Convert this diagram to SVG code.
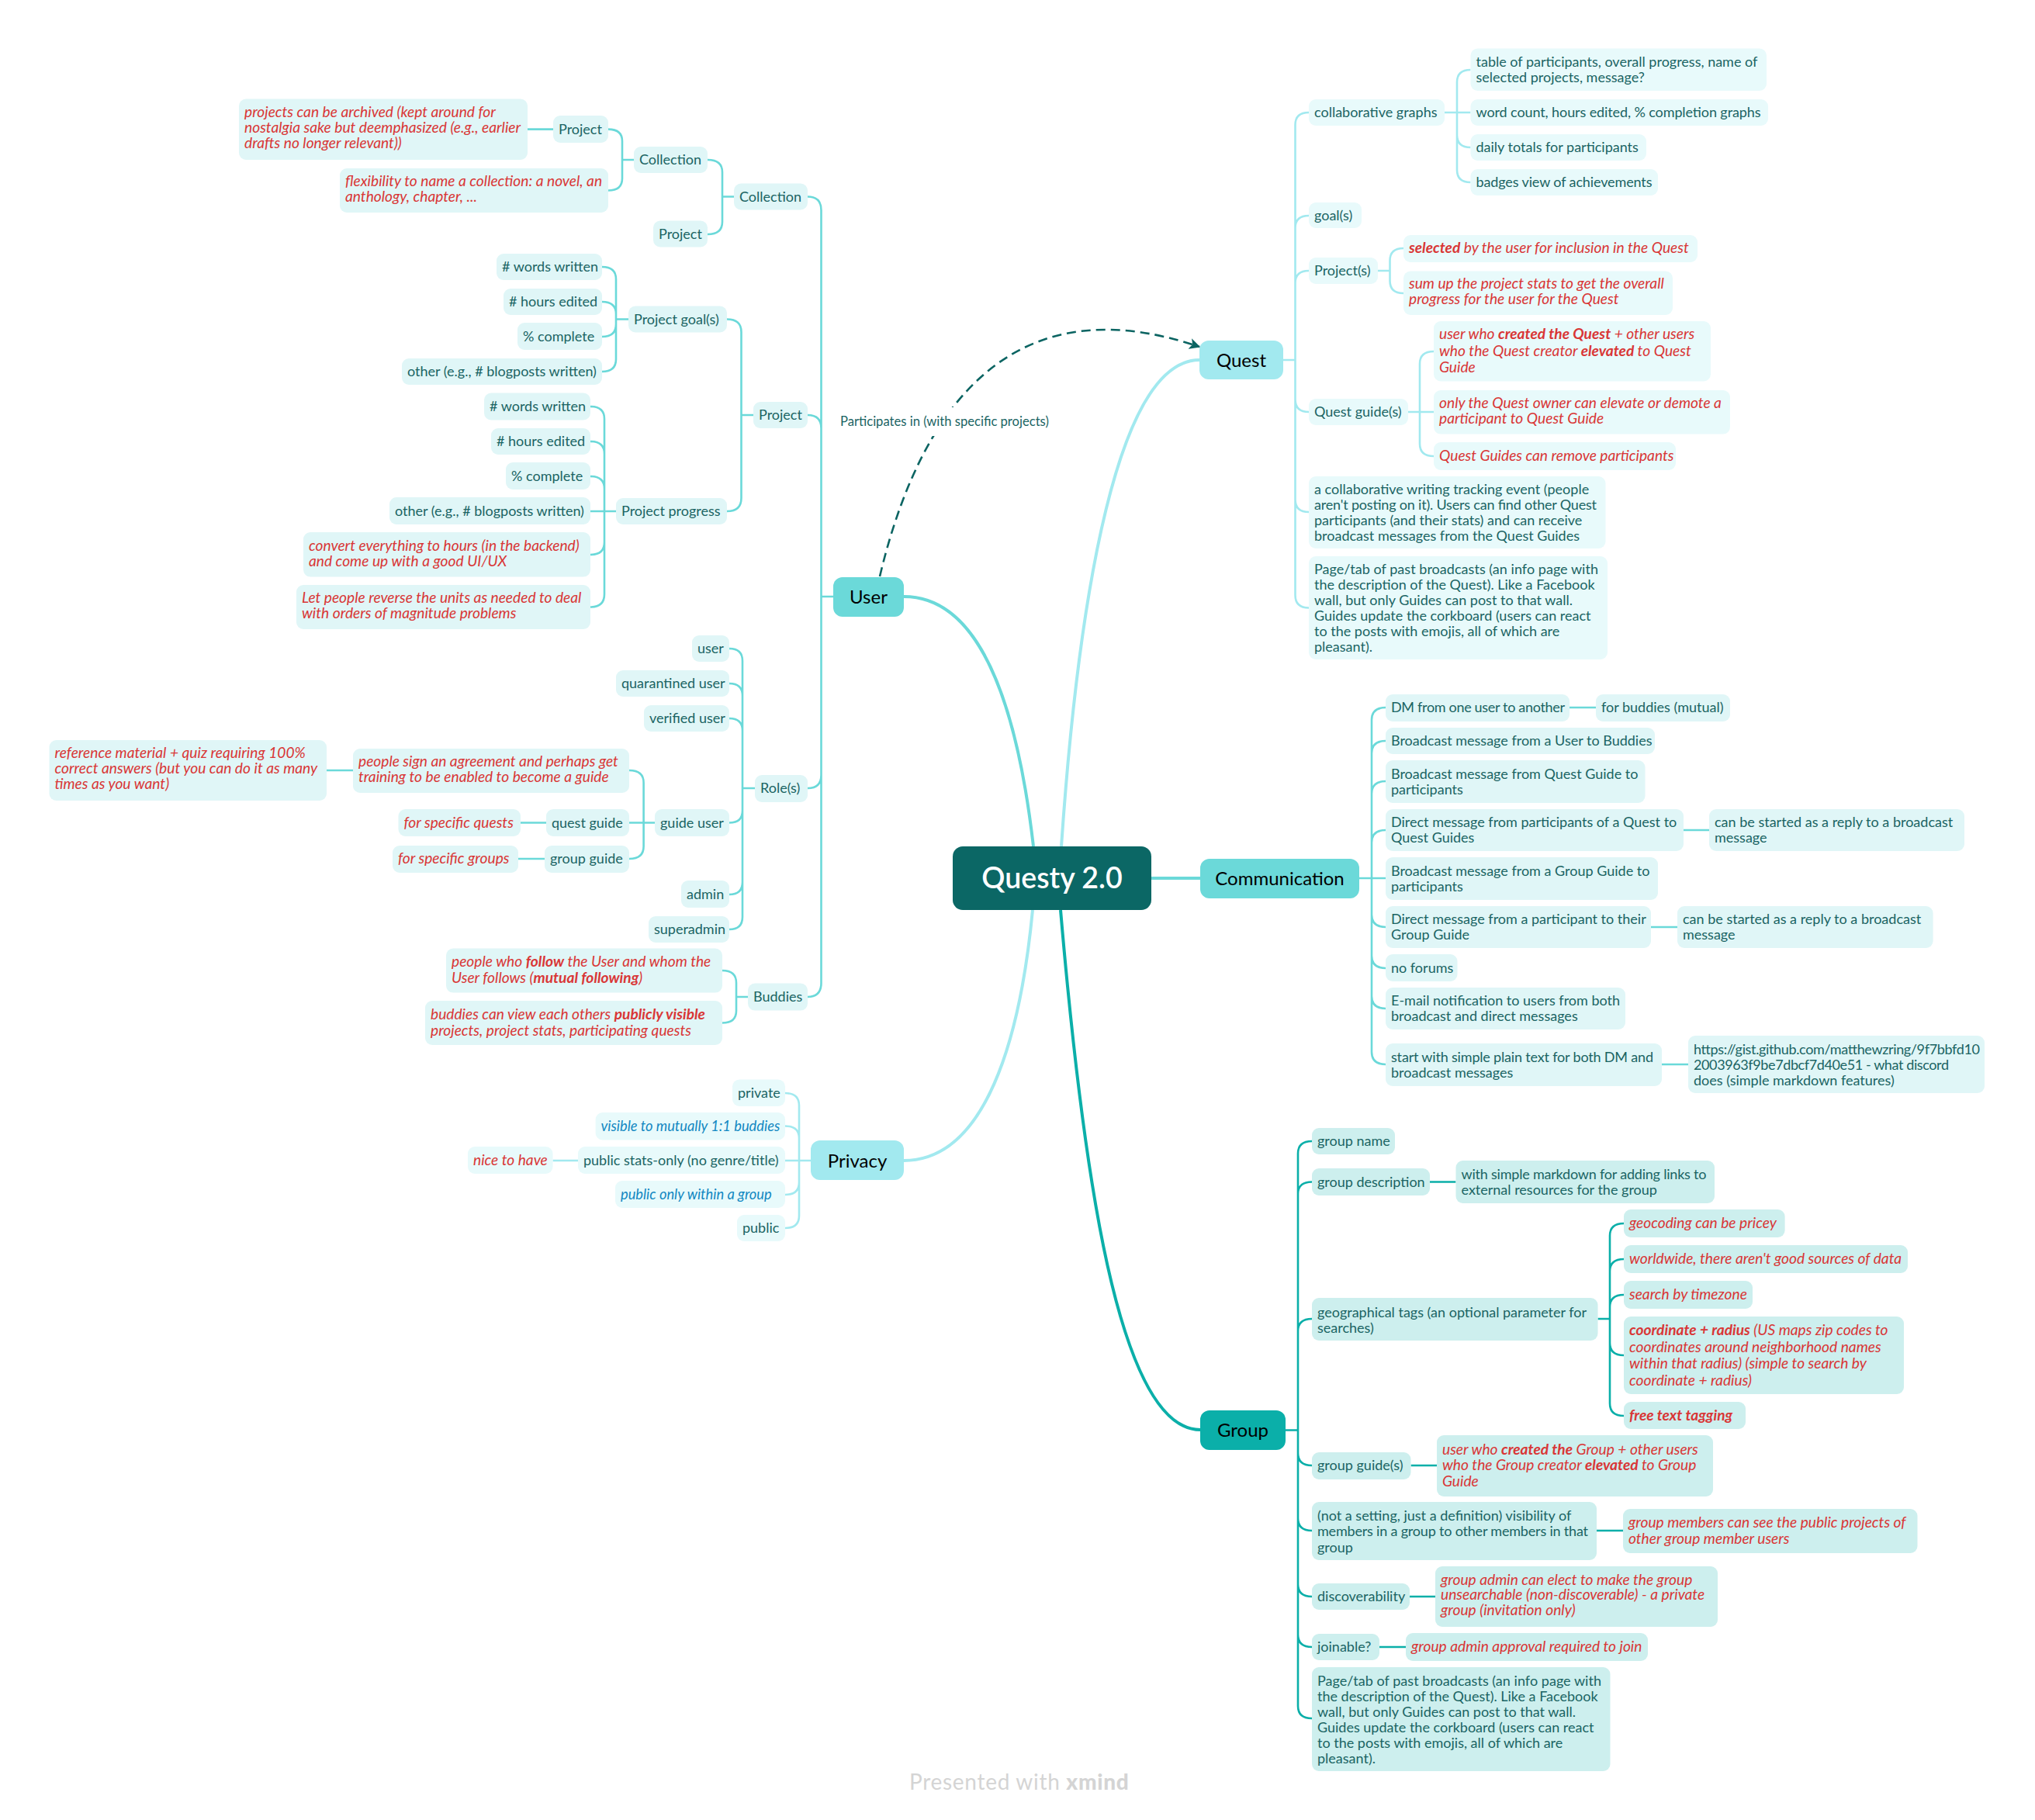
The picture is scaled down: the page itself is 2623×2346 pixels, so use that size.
<svg xmlns="http://www.w3.org/2000/svg" width="2623" height="2346" viewBox="0 0 2623 2346">
<defs>
<marker id="arrow" viewBox="0 0 10 10" refX="9" refY="5" markerWidth="5.5" markerHeight="5.5" orient="auto-start-reverse"><path d="M0 0L10 5L0 10L2.5 5Z" fill="#0B6462"/></marker>
</defs>
<style>
text{font-family:"Lato","Noto Sans",sans-serif;font-size:18px;fill:#1A6463}
rect{rx:9px;ry:9px}
.u rect{fill:#E0F6F7}
.q rect{fill:#E8FAFB}
.g rect{fill:#CDEFEE}
.m text{font-size:24px;fill:#000}
.m rect{rx:12px;ry:12px}
.r{fill:#D93636;font-style:italic;font-size:19.2px}
.b{fill:#1288C2;font-style:italic;font-size:18.3px}
.r tspan{font-weight:700}
.c{fill:none;stroke-width:2.6}
.cu{stroke:#6BD9D9}
.cq{stroke:#A2E9EF}
.cg{stroke:#0BAFA9}
.main{fill:none;stroke-width:4}
</style>
<rect width="2623" height="2346" fill="#fff" style="rx:0;ry:0"/>
<g id="connectors">
<path class="main cu" d="M1165 769C1260 769 1310 900 1332 1091"/>
<path class="main cq" d="M1546 464C1440 464 1390 770 1368 1091"/>
<path class="main cu" d="M1484 1132H1547"/>
<path class="main cq" d="M1165 1496C1270 1496 1315 1340 1331 1173"/>
<path class="main cg" d="M1547 1843C1440 1843 1395 1500 1367 1173"/>
<path class="c cu" d="M1041 253.5Q1058.5 253.5 1058.5 271V1267Q1058.5 1285 1041 1285M1041 535Q1058.5 535 1058.5 552M1041 1016Q1058.5 1016 1058.5 999M1058.5 769H1074M912 206Q931 206 931 222V286Q931 302 912 302M931 253.5H946M784 166.6Q802 166.6 802 182V230Q802 245.5 784 245.5M802 206H817M680 166.6H713M937 411.5Q955.5 411.5 955.5 428V642Q955.5 659 937 659M955.5 535H971M776 344Q794 344 794 360V463Q794 479 776 479M776 389Q794 389 794 405M776 434Q794 434 794 418M794 411.5H810M761 524Q779 524 779 540V766Q779 782.5 761 782.5M761 569Q779 569 779 585M761 614Q779 614 779 630M761 659H794M761 715Q779 715 779 699M940 836Q957 836 957 852V1182Q957 1198 940 1198M940 881Q957 881 957 897M940 926Q957 926 957 942M940 1060.5Q957 1060.5 957 1045M940 1153Q957 1153 957 1137M957 1016H973M811 993Q829.6 993 829.6 1009V1091Q829.6 1107 811 1107M811 1060.5H844M421 993H455M671 1060.5H704M668 1107H702M931 1251Q949 1251 949 1267V1303Q949 1318.5 931 1318.5M949 1285H964"/>
<path class="c cq" d="M1012 1409Q1030 1409 1030 1425V1567Q1030 1583 1012 1583M1012 1451.5Q1030 1451.5 1030 1467M1012 1496H1045M1012 1540Q1030 1540 1030 1524M712.5 1496H745"/>
<path class="c cq" d="M1687 145Q1669.5 145 1669.5 161V767Q1669.5 783.5 1687 783.5M1687 278Q1669.5 278 1669.5 294M1687 349Q1669.5 349 1669.5 365M1687 531Q1669.5 531 1669.5 515M1687 660Q1669.5 660 1669.5 644M1653.7 464H1669.5M1895.5 90Q1878 90 1878 106V219Q1878 235 1895.5 235M1862 145H1895.5M1895.5 190Q1878 190 1878 174M1809 320Q1791.5 320 1791.5 336V362Q1791.5 378 1809 378M1776 349H1791.5M1848 453Q1830 453 1830 469V572Q1830 588 1848 588M1815 531H1848"/>
<path class="c cu" d="M1786 912Q1768 912 1768 928V1356Q1768 1372 1786 1372M1786 955Q1768 955 1768 971M1786 1007Q1768 1007 1768 1023M1786 1070Q1768 1070 1768 1086M1752 1132H1786M1786 1195Q1768 1195 1768 1179M1786 1248Q1768 1248 1768 1232M1786 1300Q1768 1300 1768 1284M2023 912H2057M2170 1070H2203M2128 1195H2162M2142 1372H2176"/>
<path class="c cg" d="M1691 1471Q1673 1471 1673 1487V2199Q1673 2215 1691 2215M1691 1523.5Q1673 1523.5 1673 1539M1691 1700Q1673 1700 1673 1716M1691 1889Q1673 1889 1673 1873M1691 1973Q1673 1973 1673 1957M1691 2058Q1673 2058 1673 2042M1691 2123Q1673 2123 1673 2107M1657 1843.5H1673M1843 1523.5H1876.5M2093 1577Q2075 1577 2075 1593V1809Q2075 1825 2093 1825M2093 1623Q2075 1623 2075 1639M2093 1669Q2075 1669 2075 1685M2093 1747Q2075 1747 2075 1731M2059.5 1700H2075M1818.5 1889H1852M2058 1973H2092M1817 2058H1850M1778 2123H1812"/>
<path d="M1134 743C1175 570 1260 425 1425 425C1470 425 1510 435 1546 447" fill="none" stroke="#0B6462" stroke-width="2.6" stroke-dasharray="12 7" marker-end="url(#arrow)"/>
<rect x="1078" y="525" width="280" height="37" fill="#fff" style="rx:0;ry:0"/>
<text x="1083" y="549" style="font-size:16.6px">Participates in (with specific projects)</text>
</g>
<g id="root"><rect x="1228" y="1091" width="256" height="82" fill="#0B6765" style="rx:13px;ry:13px"/><text x="1356" y="1145" text-anchor="middle" style="font-size:37.5px;fill:#fff;font-weight:600">Questy 2.0</text></g>
<g id="user" class="m"><rect x="1074" y="744" width="91" height="51" fill="#6BD9D9"/><text x="1119.5" y="778" text-anchor="middle">User</text></g>
<g id="quest" class="m"><rect x="1546" y="439" width="108" height="50" fill="#A2E9EF"/><text x="1600" y="473" text-anchor="middle">Quest</text></g>
<g id="communication" class="m"><rect x="1547" y="1107" width="205" height="51" fill="#6BD9D9"/><text x="1649.5" y="1141" text-anchor="middle">Communication</text></g>
<g id="privacy" class="m"><rect x="1045" y="1470" width="120" height="51" fill="#A2E9EF"/><text x="1105" y="1505" text-anchor="middle">Privacy</text></g>
<g id="group" class="m"><rect x="1547" y="1818" width="110" height="51" fill="#0BAFA9"/><text x="1602" y="1852" text-anchor="middle">Group</text></g>

<g class="u">
<g id="u1"><rect x="308" y="127.5" width="372" height="78.5"/><text class="r"><tspan style="font-weight:400" x="315" y="151">projects can be archived (kept around for</tspan><tspan style="font-weight:400" x="315" y="171">nostalgia sake but deemphasized (e.g., earlier</tspan><tspan style="font-weight:400" x="315" y="191">drafts no longer relevant))</tspan></text></g>
<g id="u2"><rect x="713" y="149" width="71" height="35"/><text x="720" y="172.5">Project</text></g>
<g id="u3"><rect x="438" y="217" width="346" height="57"/><text class="r"><tspan style="font-weight:400" x="445" y="240">flexibility to name a collection: a novel, an</tspan><tspan style="font-weight:400" x="445" y="260">anthology, chapter, ...</tspan></text></g>
<g id="u4"><rect x="817" y="189" width="95" height="34"/><text x="824" y="212">Collection</text></g>
<g id="u5"><rect x="842" y="284.5" width="70" height="34"/><text x="849" y="308">Project</text></g>
<g id="u6"><rect x="946" y="236.5" width="95" height="34"/><text x="953" y="259.5">Collection</text></g>
<g id="u7"><rect x="640" y="327" width="136" height="34"/><text x="647" y="350">&#35; words written</text></g>
<g id="u8"><rect x="649" y="372" width="127" height="34"/><text x="656" y="395">&#35; hours edited</text></g>
<g id="u9"><rect x="667" y="416" width="109" height="35"/><text x="674" y="439.5">% complete</text></g>
<g id="u10"><rect x="518" y="462" width="258" height="34"/><text x="525" y="485">other (e.g., # blogposts written)</text></g>
<g id="u11"><rect x="810" y="394.5" width="127" height="34"/><text x="817" y="417.5">Project goal(s)</text></g>
<g id="u12"><rect x="624" y="506.5" width="137" height="35"/><text x="631" y="530">&#35; words written</text></g>
<g id="u13"><rect x="633" y="552" width="128" height="34"/><text x="640" y="575">&#35; hours edited</text></g>
<g id="u14"><rect x="652" y="596" width="109" height="35"/><text x="659" y="620">% complete</text></g>
<g id="u15"><rect x="502" y="641" width="259" height="35"/><text x="509" y="665">other (e.g., # blogposts written)</text></g>
<g id="u16"><rect x="391" y="686" width="370" height="57.6"/><text class="r"><tspan style="font-weight:400" x="398" y="710">convert everything to hours (in the backend)</tspan><tspan style="font-weight:400" x="398" y="730">and come up with a good UI/UX</tspan></text></g>
<g id="u17"><rect x="382" y="754" width="379" height="57"/><text class="r"><tspan style="font-weight:400" x="389" y="777">Let people reverse the units as needed to deal</tspan><tspan style="font-weight:400" x="389" y="797">with orders of magnitude problems</tspan></text></g>
<g id="u18"><rect x="794" y="642" width="143" height="34"/><text x="801" y="665">Project progress</text></g>
<g id="u19"><rect x="971" y="518" width="70" height="34"/><text x="978" y="541">Project</text></g>
<g id="u20"><rect x="892" y="819" width="48" height="34"/><text x="899" y="842">user</text></g>
<g id="u21"><rect x="794" y="864" width="146" height="34"/><text x="801" y="887">quarantined user</text></g>
<g id="u22"><rect x="830" y="909" width="110" height="34"/><text x="837" y="932">verified user</text></g>
<g id="u23"><rect x="63.5" y="954" width="357.5" height="78"/><text class="r"><tspan style="font-weight:400" x="70.5" y="977">reference material + quiz requiring 100%</tspan><tspan style="font-weight:400" x="70.5" y="997">correct answers (but you can do it as many</tspan><tspan style="font-weight:400" x="70.5" y="1017">times as you want)</tspan></text></g>
<g id="u24"><rect x="455" y="965" width="356" height="57"/><text class="r"><tspan style="font-weight:400" x="462" y="988">people sign an agreement and perhaps get</tspan><tspan style="font-weight:400" x="462" y="1008">training to be enabled to become a guide</tspan></text></g>
<g id="u25"><rect x="513.5" y="1043" width="157.5" height="35"/><text class="r" x="520.5" y="1066.5">for specific quests</text></g>
<g id="u26"><rect x="704" y="1043" width="107" height="35"/><text x="711" y="1066.5">quest guide</text></g>
<g id="u27"><rect x="506" y="1090" width="162" height="35"/><text class="r" x="513" y="1113">for specific groups</text></g>
<g id="u28"><rect x="702" y="1090" width="109" height="35"/><text x="709" y="1113">group guide</text></g>
<g id="u29"><rect x="844" y="1043" width="96" height="35"/><text x="851" y="1066.5">guide user</text></g>
<g id="u30"><rect x="878" y="1135" width="62" height="35"/><text x="885" y="1159">admin</text></g>
<g id="u31"><rect x="836" y="1181" width="104" height="34"/><text x="843" y="1204">superadmin</text></g>
<g id="u32"><rect x="973" y="999" width="68" height="35"/><text x="980" y="1022">Role(s)</text></g>
<g id="u33"><rect x="575" y="1222.6" width="356" height="57"/><text class="r" x="582" y="1246">people who <tspan>follow</tspan> the User and whom the<tspan style="font-weight:400" x="582" y="1267">User follows (</tspan><tspan>mutual following</tspan>)</text></g>
<g id="u34"><rect x="548" y="1290" width="383" height="57"/><text class="r" x="555" y="1314">buddies can view each others <tspan>publicly visible</tspan><tspan style="font-weight:400" x="555" y="1335">projects, project stats, participating quests</tspan></text></g>
<g id="u35"><rect x="964" y="1267.6" width="77" height="35"/><text x="971" y="1291">Buddies</text></g>
</g>

<g class="q">
<g id="p1"><rect x="944" y="1391.5" width="68" height="34.5"/><text x="951" y="1415">private</text></g>
<g id="p2"><rect x="767.6" y="1434" width="244.4" height="35.5"/><text class="b" x="774.6" y="1457.5">visible to mutually 1:1 buddies</text></g>
<g id="p3"><rect x="745" y="1478" width="267" height="35"/><text x="752" y="1502">public stats-only (no genre/title)</text></g>
<g id="p4"><rect x="603" y="1478" width="109.5" height="35"/><text class="r" x="610" y="1502">nice to have</text></g>
<g id="p5"><rect x="793" y="1522" width="219" height="35"/><text class="b" x="800" y="1546">public only within a group</text></g>
<g id="p6"><rect x="950" y="1566" width="62" height="34"/><text x="957" y="1589">public</text></g>
<g id="q1"><rect x="1687" y="128" width="175" height="34"/><text x="1694" y="151">collaborative graphs</text></g>
<g id="q2"><rect x="1895.5" y="62.5" width="381.5" height="54.5"/><text x="1902.5" y="86">table of participants, overall progress, name of<tspan x="1902.5" y="106">selected projects, message?</tspan></text></g>
<g id="q3"><rect x="1895.5" y="128" width="383.5" height="34"/><text x="1902.5" y="151" textLength="367">word count, hours edited, % completion graphs</text></g>
<g id="q4"><rect x="1895.5" y="173" width="226.5" height="34"/><text x="1902.5" y="196">daily totals for participants</text></g>
<g id="q5"><rect x="1895.5" y="218" width="241.5" height="34"/><text x="1902.5" y="241" textLength="227">badges view of achievements</text></g>
<g id="q6"><rect x="1687" y="261" width="68" height="33"/><text x="1694" y="284">goal(s)</text></g>
<g id="q7"><rect x="1687" y="332" width="89" height="34"/><text x="1694" y="355">Project(s)</text></g>
<g id="q8"><rect x="1809" y="303" width="379" height="35"/><text class="r" x="1816" y="326"><tspan>selected</tspan> by the user for inclusion in the Quest</text></g>
<g id="q9"><rect x="1809" y="349.6" width="347" height="56.4"/><text class="r"><tspan style="font-weight:400" x="1816" y="372">sum up the project stats to get the overall</tspan><tspan style="font-weight:400" x="1816" y="392">progress for the user for the Quest</tspan></text></g>
<g id="q10"><rect x="1687" y="514" width="128" height="34"/><text x="1694" y="537">Quest guide(s)</text></g>
<g id="q11"><rect x="1848" y="414" width="357" height="77.5"/><text class="r" x="1855" y="437">user who <tspan>created the Quest</tspan> + other users<tspan style="font-weight:400" x="1855" y="459">who the Quest creator </tspan><tspan>elevated</tspan> to Quest<tspan style="font-weight:400" x="1855" y="480">Guide</tspan></text></g>
<g id="q12"><rect x="1848" y="503" width="382" height="56.6"/><text class="r"><tspan style="font-weight:400" x="1855" y="526">only the Quest owner can elevate or demote a</tspan><tspan style="font-weight:400" x="1855" y="546">participant to Quest Guide</tspan></text></g>
<g id="q13"><rect x="1848" y="570" width="312" height="36"/><text class="r" x="1855" y="594">Quest Guides can remove participants</text></g>
<g id="q14"><rect x="1687" y="614" width="382.5" height="93"/><text><tspan x="1694" y="637">a collaborative writing tracking event (people</tspan><tspan x="1694" y="657" textLength="364">aren't posting on it). Users can find other Quest</tspan><tspan x="1694" y="677">participants (and their stats) and can receive</tspan><tspan x="1694" y="697">broadcast messages from the Quest Guides</tspan></text></g>
<g id="q15"><rect x="1687" y="717" width="385" height="133"/><text><tspan x="1694" y="740" textLength="366">Page/tab of past broadcasts (an info page with</tspan><tspan x="1694" y="760">the description of the Quest). Like a Facebook</tspan><tspan x="1694" y="780">wall, but only Guides can post to that wall.</tspan><tspan x="1694" y="800">Guides update the corkboard (users can react</tspan><tspan x="1694" y="820">to the posts with emojis, all of which are</tspan><tspan x="1694" y="840">pleasant).</tspan></text></g>
</g>

<g class="u">
<g id="c1"><rect x="1786" y="895" width="237" height="35"/><text x="1793" y="918" textLength="224">DM from one user to another</text></g>
<g id="c2"><rect x="2057" y="895" width="173" height="35"/><text x="2064" y="918">for buddies (mutual)</text></g>
<g id="c3"><rect x="1786" y="938" width="347" height="34"/><text x="1793" y="961">Broadcast message from a User to Buddies</text></g>
<g id="c4"><rect x="1786" y="980" width="334.5" height="55"/><text><tspan x="1793" y="1004">Broadcast message from Quest Guide to</tspan><tspan x="1793" y="1024">participants</tspan></text></g>
<g id="c5"><rect x="1786" y="1043" width="384" height="54"/><text><tspan x="1793" y="1066">Direct message from participants of a Quest to</tspan><tspan x="1793" y="1086">Quest Guides</tspan></text></g>
<g id="c6"><rect x="2203" y="1043" width="329" height="54"/><text><tspan x="2210" y="1066">can be started as a reply to a broadcast</tspan><tspan x="2210" y="1086">message</tspan></text></g>
<g id="c7"><rect x="1786" y="1105" width="351" height="55"/><text><tspan x="1793" y="1129">Broadcast message from a Group Guide to</tspan><tspan x="1793" y="1149">participants</tspan></text></g>
<g id="c8"><rect x="1786" y="1168" width="342" height="54"/><text><tspan x="1793" y="1191">Direct message from a participant to their</tspan><tspan x="1793" y="1211">Group Guide</tspan></text></g>
<g id="c9"><rect x="2162" y="1168" width="329.6" height="54"/><text><tspan x="2169" y="1191">can be started as a reply to a broadcast</tspan><tspan x="2169" y="1211">message</tspan></text></g>
<g id="c10"><rect x="1786" y="1230" width="92.5" height="35"/><text x="1793" y="1254">no forums</text></g>
<g id="c11"><rect x="1786" y="1273" width="309" height="54"/><text><tspan x="1793" y="1296">E-mail notification to users from both</tspan><tspan x="1793" y="1316">broadcast and direct messages</tspan></text></g>
<g id="c12"><rect x="1786" y="1345" width="356" height="55"/><text><tspan x="1793" y="1369" textLength="338">start with simple plain text for both DM and</tspan><tspan x="1793" y="1389">broadcast messages</tspan></text></g>
<g id="c13"><rect x="2176" y="1335" width="382" height="74"/><text><tspan x="2183" y="1359" textLength="369">https://gist.github.com/matthewzring/9f7bbfd10</tspan><tspan x="2183" y="1379" textLength="329">2003963f9be7dbcf7d40e51 - what discord</tspan><tspan x="2183" y="1399">does (simple markdown features)</tspan></text></g>
</g>

<g class="g">
<g id="g1"><rect x="1691" y="1454" width="107" height="34"/><text x="1698" y="1477">group name</text></g>
<g id="g2"><rect x="1691" y="1506" width="152" height="35"/><text x="1698" y="1530">group description</text></g>
<g id="g3"><rect x="1876.5" y="1496" width="333.5" height="55"/><text><tspan x="1883.5" y="1520" textLength="316">with simple markdown for adding links to</tspan><tspan x="1883.5" y="1540">external resources for the group</tspan></text></g>
<g id="g4"><rect x="1691" y="1673" width="368.5" height="55"/><text><tspan x="1698" y="1698">geographical tags (an optional parameter for</tspan><tspan x="1698" y="1718">searches)</tspan></text></g>
<g id="g5"><rect x="2093" y="1559" width="207.6" height="36"/><text class="r" x="2100" y="1583">geocoding can be pricey</text></g>
<g id="g6"><rect x="2093" y="1605" width="366" height="36"/><text class="r" x="2100" y="1629">worldwide, there aren't good sources of data</text></g>
<g id="g7"><rect x="2093" y="1651" width="166" height="36"/><text class="r" x="2100" y="1675">search by timezone</text></g>
<g id="g8"><rect x="2093" y="1697" width="361" height="100"/><text class="r"><tspan x="2100" y="1721">coordinate + radius</tspan><tspan style="font-weight:400"> (US maps zip codes to</tspan><tspan style="font-weight:400" x="2100" y="1743">coordinates around neighborhood names</tspan><tspan style="font-weight:400" x="2100" y="1764">within that radius) (simple to search by</tspan><tspan style="font-weight:400" x="2100" y="1786">coordinate + radius)</tspan></text></g>
<g id="g9"><rect x="2093" y="1807" width="157" height="35"/><text class="r" x="2100" y="1831"><tspan>free text tagging</tspan></text></g>
<g id="g10"><rect x="1691" y="1872" width="127.5" height="35"/><text x="1698" y="1895">group guide(s)</text></g>
<g id="g11"><rect x="1852" y="1850" width="356" height="79"/><text class="r" x="1859" y="1875">user who <tspan>created the</tspan> Group + other users<tspan style="font-weight:400" x="1859" y="1895">who the Group creator </tspan><tspan>elevated</tspan> to Group<tspan style="font-weight:400" x="1859" y="1916">Guide</tspan></text></g>
<g id="g12"><rect x="1691" y="1936" width="367" height="75"/><text><tspan x="1698" y="1960">(not a setting, just a definition) visibility of</tspan><tspan x="1698" y="1980" textLength="349">members in a group to other members in that</tspan><tspan x="1698" y="2001">group</tspan></text></g>
<g id="g13"><rect x="2092" y="1945" width="379.5" height="57"/><text class="r"><tspan style="font-weight:400" x="2099" y="1969">group members can see the public projects of</tspan><tspan style="font-weight:400" x="2099" y="1990">other group member users</tspan></text></g>
<g id="g14"><rect x="1691" y="2041" width="126" height="34"/><text x="1698" y="2064">discoverability</text></g>
<g id="g15"><rect x="1850" y="2019" width="364" height="78"/><text class="r"><tspan style="font-weight:400" x="1857" y="2043">group admin can elect to make the group</tspan><tspan style="font-weight:400" x="1857" y="2062">unsearchable (non-discoverable) - a private</tspan><tspan style="font-weight:400" x="1857" y="2082">group (invitation only)</tspan></text></g>
<g id="g16"><rect x="1691" y="2106" width="87" height="34"/><text x="1698" y="2129">joinable?</text></g>
<g id="g17"><rect x="1812" y="2105" width="312" height="36"/><text class="r" x="1819" y="2129">group admin approval required to join</text></g>
<g id="g18"><rect x="1691" y="2149" width="384.5" height="134"/><text><tspan x="1698" y="2173" textLength="366">Page/tab of past broadcasts (an info page with</tspan><tspan x="1698" y="2193">the description of the Quest). Like a Facebook</tspan><tspan x="1698" y="2213">wall, but only Guides can post to that wall.</tspan><tspan x="1698" y="2233">Guides update the corkboard (users can react</tspan><tspan x="1698" y="2253">to the posts with emojis, all of which are</tspan><tspan x="1698" y="2273">pleasant).</tspan></text></g>
</g>
<text x="1172" y="2307" style="font-size:28px;fill:#D4D4D4;letter-spacing:.7px">Presented with <tspan style="font-weight:900">xmind</tspan></text>
</svg>
